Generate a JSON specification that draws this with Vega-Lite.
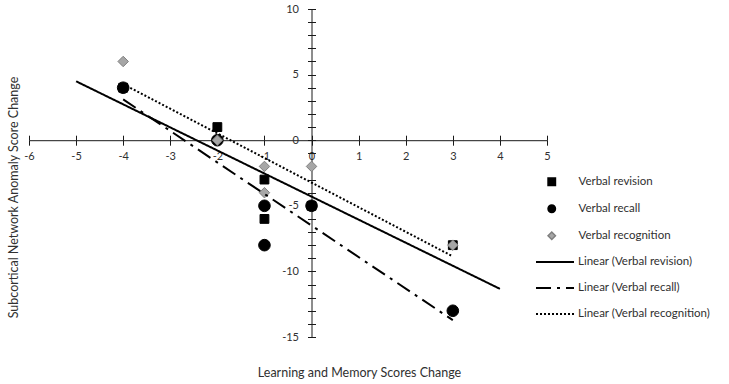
{
  "$schema": "https://vega.github.io/schema/vega-lite/v6.json",
  "width": 518,
  "height": 328,
  "autosize": {"type": "none"},
  "padding": {"left": 29, "top": 9, "right": 182, "bottom": 47},
  "background": "white",
  "config": {
    "view": {"stroke": null},
    "font": "Lato",
    "axis": {"grid": false, "labelFont": "Lato", "titleFont": "Lato", "labelColor": "#303030", "titleColor": "#303030", "domainColor": "#1a1a1a", "tickColor": "#1a1a1a", "domainWidth": 1, "tickWidth": 1},
    "legend": {"labelFont": "Lato", "labelColor": "#303030", "padding": 0}
  },
  "datasets": {
    "scores": [
      {"series": "Verbal revision", "x": -4, "y": 4},
      {"series": "Verbal revision", "x": -2, "y": 1},
      {"series": "Verbal revision", "x": -1, "y": -3},
      {"series": "Verbal revision", "x": -1, "y": -6},
      {"series": "Verbal revision", "x": 0, "y": -5},
      {"series": "Verbal revision", "x": 3, "y": -8},
      {"series": "Verbal recall", "x": -4, "y": 4},
      {"series": "Verbal recall", "x": -2, "y": 0},
      {"series": "Verbal recall", "x": -1, "y": -5},
      {"series": "Verbal recall", "x": -1, "y": -8},
      {"series": "Verbal recall", "x": 0, "y": -5},
      {"series": "Verbal recall", "x": 3, "y": -13},
      {"series": "Verbal recognition", "x": -4, "y": 6},
      {"series": "Verbal recognition", "x": -2, "y": 0},
      {"series": "Verbal recognition", "x": -1, "y": -2},
      {"series": "Verbal recognition", "x": -1, "y": -4},
      {"series": "Verbal recognition", "x": 0, "y": -2},
      {"series": "Verbal recognition", "x": 3, "y": -8}
    ],
    "fits": [
      {"series": "Verbal revision", "fit": "Linear (Verbal revision)"},
      {"series": "Verbal recall", "fit": "Linear (Verbal recall)"},
      {"series": "Verbal recognition", "fit": "Linear (Verbal recognition)"}
    ]
  },
  "data": {"name": "scores"},
  "resolve": {"axis": {"x": "independent", "y": "independent"}},
  "layer": [
    {
      "mark": {"type": "point", "filled": true, "strokeWidth": 1, "opacity": 1},
      "encoding": {
        "x": {
          "field": "x", "type": "quantitative",
          "scale": {"domain": [-6, 5], "nice": false, "zero": false},
          "axis": {
            "orient": "bottom", "offset": -196.8,
            "values": [-6, -5, -4, -3, -2, -1, 0, 1, 2, 3, 4, 5],
            "labelExpr": "'' + datum.value",
            "labelOverlap": false, "labelBound": false, "labelFlush": false,
            "tickSize": 5, "labelPadding": 5, "labelFontSize": 11,
            "title": "Learning and Memory Scores Change",
            "titleX": 330, "titleY": 231.8, "titleBaseline": "middle", "titleAlign": "center",
            "titleFontSize": 12.5, "titleFontWeight": "normal"
          }
        },
        "y": {
          "field": "y", "type": "quantitative",
          "scale": {"domain": [-15, 10], "nice": false, "zero": false},
          "axis": {
            "orient": "left", "offset": -282.5,
            "values": [-15, -14, -13, -12, -11, -10, -9, -8, -7, -6, -5, -4, -3, -2, -1, 0, 1, 2, 3, 4, 5, 6, 7, 8, 9, 10],
            "labelExpr": "datum.value % 5 == 0 ? '' + datum.value : ''",
            "labelOverlap": false, "labelBound": false, "labelFlush": false,
            "tickSize": 4, "labelPadding": 9, "labelFontSize": 11,
            "title": "Subcortical Network Anomaly Score Change",
            "titleX": -298.5, "titleY": 188, "titleAngle": -90, "titleBaseline": "middle", "titleAlign": "center",
            "titleFontSize": 12.5, "titleFontWeight": "normal"
          }
        },
        "size": {
          "condition": [
            {"test": "datum.series == 'Verbal recall'", "value": 135},
            {"test": "datum.series == 'Verbal recognition'", "value": 110}
          ],
          "value": 78
        },
        "shape": {
          "field": "series", "type": "nominal",
          "scale": {"domain": ["Verbal revision", "Verbal recall", "Verbal recognition"], "range": ["square", "circle", "diamond"]},
          "legend": {"orient": "none", "legendX": 517, "legendY": 167, "title": null, "symbolSize": 55, "labelFontSize": 11.5, "labelOffset": 21, "rowPadding": 13, "encode": {"symbols": {"update": {"size": {"value": 55}}}}}
        },
        "fill": {
          "field": "series", "type": "nominal",
          "scale": {"domain": ["Verbal revision", "Verbal recall", "Verbal recognition"], "range": ["#000000", "#000000", "#a6a6a6"]},
          "legend": {"orient": "none", "legendX": 517, "legendY": 167, "title": null, "symbolSize": 55, "labelFontSize": 11.5, "labelOffset": 21, "rowPadding": 13, "encode": {"symbols": {"update": {"size": {"value": 55}}}}}
        },
        "stroke": {
          "field": "series", "type": "nominal",
          "scale": {"domain": ["Verbal revision", "Verbal recall", "Verbal recognition"], "range": ["#000000", "#000000", "#7f7f7f"]},
          "legend": {"orient": "none", "legendX": 517, "legendY": 167, "title": null, "symbolSize": 55, "labelFontSize": 11.5, "labelOffset": 21, "rowPadding": 13, "encode": {"symbols": {"update": {"size": {"value": 55}}}}}
        }
      }
    },
    {
      "transform": [
        {"filter": "datum.series == 'Verbal revision'"},
        {"regression": "y", "on": "x", "groupby": ["series"], "extent": [-5, 4]},
        {"lookup": "series", "from": {"data": {"name": "fits"}, "key": "series", "fields": ["fit"]}}
      ],
      "mark": {"type": "line", "color": "#000000", "strokeWidth": 2},
      "encoding": {
        "x": {
          "field": "x", "type": "quantitative",
          "axis": {"orient": "top", "offset": -131.2, "values": [-6, -5, -4, -3, -2, -1, 0, 1, 2, 3, 4, 5], "labels": false, "domain": false, "tickSize": 5, "title": null}
        },
        "y": {
          "field": "y", "type": "quantitative",
          "axis": {"orient": "right", "offset": -235.5, "values": [-15, -14, -13, -12, -11, -10, -9, -8, -7, -6, -5, -4, -3, -2, -1, 0, 1, 2, 3, 4, 5, 6, 7, 8, 9, 10], "labels": false, "domain": false, "tickSize": 4, "title": null}
        },
        "strokeDash": {
          "field": "fit", "type": "nominal",
          "scale": {"domain": ["Linear (Verbal revision)", "Linear (Verbal recall)", "Linear (Verbal recognition)"], "range": [[1, 0], [15, 6, 3, 6], [2, 2]]},
          "legend": {"orient": "none", "legendX": 506, "legendY": 233, "title": null, "symbolType": "stroke", "symbolSize": 1444, "symbolStrokeWidth": 2, "symbolStrokeColor": "#000000", "labelFontSize": 11.5, "labelOffset": 3, "rowPadding": 0}
        }
      }
    },
    {
      "transform": [
        {"filter": "datum.series != 'Verbal revision'"},
        {"regression": "y", "on": "x", "groupby": ["series"], "extent": [-4, 3]},
        {"lookup": "series", "from": {"data": {"name": "fits"}, "key": "series", "fields": ["fit"]}}
      ],
      "mark": {"type": "line", "color": "#000000", "strokeWidth": 2},
      "encoding": {
        "x": {"field": "x", "type": "quantitative", "axis": null},
        "y": {"field": "y", "type": "quantitative", "axis": null},
        "strokeDash": {
          "field": "fit", "type": "nominal",
          "scale": {"domain": ["Linear (Verbal revision)", "Linear (Verbal recall)", "Linear (Verbal recognition)"], "range": [[1, 0], [15, 6, 3, 6], [2, 2]]},
          "legend": {"orient": "none", "legendX": 506, "legendY": 233, "title": null, "symbolType": "stroke", "symbolSize": 1444, "symbolStrokeWidth": 2, "symbolStrokeColor": "#000000", "labelFontSize": 11.5, "labelOffset": 3, "rowPadding": 0}
        }
      }
    }
  ]
}
